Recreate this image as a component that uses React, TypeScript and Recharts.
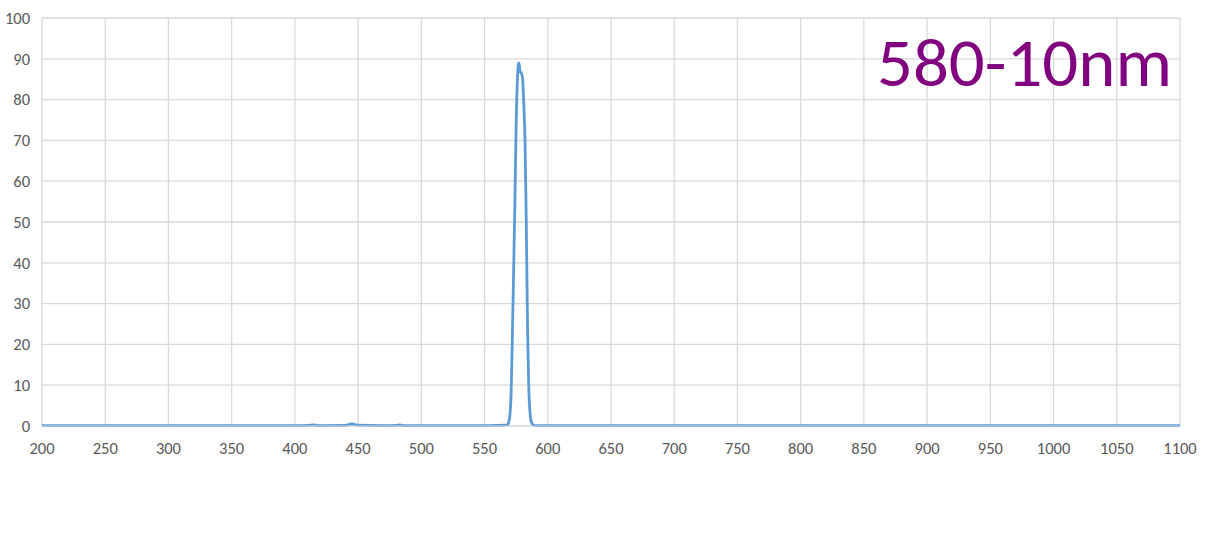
import React from 'react';
import { LineChart, Line, XAxis, YAxis, CartesianGrid } from 'recharts';

// wavelength (nm) and transmission (%)
const wavelengths = [
  200, 250, 300, 350, 400, 410, 415, 420, 440, 445, 450, 470, 480, 483, 486, 500, 550, 560, 566,
  568, 569, 570, 571, 572, 573, 574, 575, 576, 577, 577.5, 578, 579, 580, 581, 582, 583, 584,
  585, 586, 587, 588, 589, 590, 600, 650, 700, 750, 800, 850, 900, 950, 1000, 1050, 1100,
];
const transmission = [
  0.1, 0.1, 0.1, 0.1, 0.1, 0.15, 0.25, 0.1, 0.15, 0.5, 0.2, 0.1, 0.15, 0.25, 0.1, 0.1, 0.1, 0.15, 0.2,
  0.3, 0.8, 2.5, 8, 22, 38, 55, 74, 85, 89, 88.5, 87, 86.5, 85.5, 79, 70, 50, 24,
  9, 3, 1, 0.4, 0.2, 0.1, 0.1, 0.1, 0.1, 0.1, 0.1, 0.1, 0.1, 0.1, 0.1, 0.1, 0.1,
];
const xTicks = [200, 250, 300, 350, 400, 450, 500, 550, 600, 650, 700, 750, 800, 850, 900, 950, 1000, 1050, 1100];
const yTicks = [0, 10, 20, 30, 40, 50, 60, 70, 80, 90, 100];
const title = '580-10nm';

const data = wavelengths.map((w, i) => ({ w, t: transmission[i] }));

const font = 'Carlito, Calibri, "Open Sans", "Noto Sans", sans-serif';

export default function App() {
  return (
    <div style={{ position: 'absolute', left: 0, top: 0, width: 1205, height: 559, background: '#fff' }}>
      <LineChart width={1205} height={559} data={data} margin={{ top: 18, right: 25, left: 0, bottom: 108 }}>
        <CartesianGrid stroke="#d9d9d9" strokeWidth={1.3} />
        <XAxis
          dataKey="w"
          type="number"
          domain={[200, 1100]}
          ticks={xTicks}
          interval={0}
          axisLine={{ stroke: '#d9d9d9' }}
          tickLine={false}
          tickMargin={10}
          height={25}
          tick={{ fill: '#595959', fontSize: 16.5, fontFamily: font }}
        />
        <YAxis
          type="number"
          domain={[0, 100]}
          ticks={yTicks}
          interval={0}
          axisLine={false}
          tickLine={false}
          width={42}
          tickMargin={6}
          tick={{ fill: '#595959', fontSize: 16.5, fontFamily: font }}
        />
        <Line
          dataKey="t"
          type="monotone"
          stroke="#5b9bd5"
          strokeWidth={2.8}
          dot={false}
          isAnimationActive={false}
        />
      </LineChart>
      <svg width={1205} height={559} style={{ position: 'absolute', left: 0, top: 0, pointerEvents: 'none' }}>
        <text
          x={877}
          y={86}
          fill="#800080"
          fontSize={68}
          fontFamily={font}
          textLength={295}
          lengthAdjust="spacingAndGlyphs"
        >
          {title}
        </text>
      </svg>
    </div>
  );
}
